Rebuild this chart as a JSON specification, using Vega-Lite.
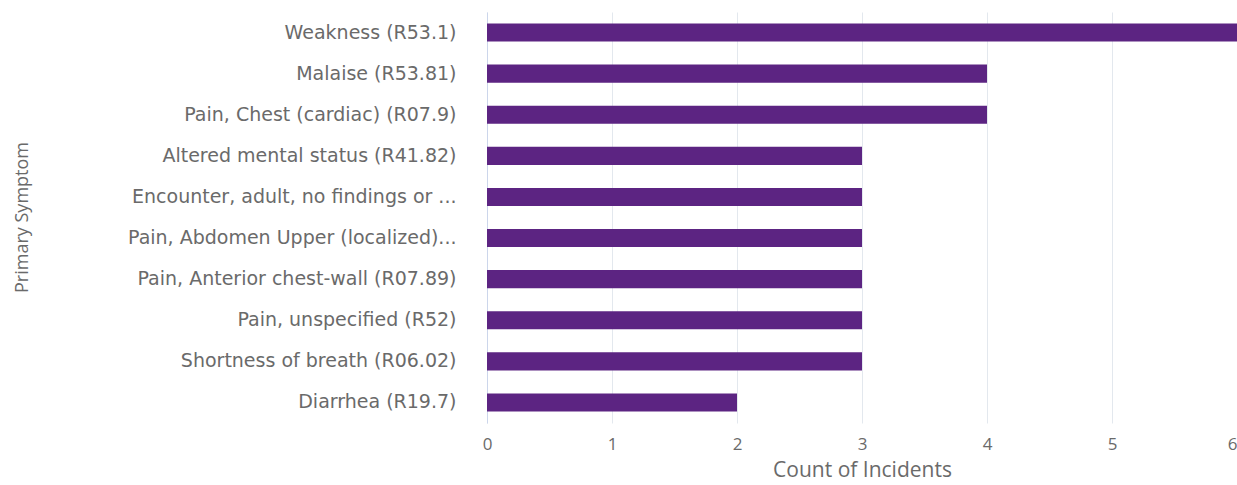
{
  "$schema": "https://vega.github.io/schema/vega-lite/v6.json",
  "autosize": "none",
  "padding": {"left": 487, "top": 12, "right": 0, "bottom": 62},
  "width": 750,
  "height": 411,
  "background": "white",
  "data": {"values": [
    {"symptom": "Weakness (R53.1)", "count": 6},
    {"symptom": "Malaise (R53.81)", "count": 4},
    {"symptom": "Pain, Chest (cardiac) (R07.9)", "count": 4},
    {"symptom": "Altered mental status (R41.82)", "count": 3},
    {"symptom": "Encounter, adult, no findings or ...", "count": 3},
    {"symptom": "Pain, Abdomen Upper (localized)...", "count": 3},
    {"symptom": "Pain, Anterior chest-wall (R07.89)", "count": 3},
    {"symptom": "Pain, unspecified (R52)", "count": 3},
    {"symptom": "Shortness of breath (R06.02)", "count": 3},
    {"symptom": "Diarrhea (R19.7)", "count": 2}
  ]},
  "mark": {"type": "bar", "color": "#5C2482"},
  "encoding": {
    "y": {
      "field": "symptom", "type": "nominal", "sort": null,
      "scale": {"paddingInner": 0.56, "paddingOuter": 0.28},
      "axis": {
        "title": "Primary Symptom", "titleFont": "Open Sans", "titleFontSize": 18, "titleFontWeight": "normal",
        "titleColor": "#6a6a6a", "titleX": -465, "titleY": 205, "titleAngle": -90, "titleAlign": "center", "titleBaseline": "middle",
        "labelFont": "DejaVu Sans", "labelFontSize": 19, "labelColor": "#6a6a6a", "labelPadding": 31,
        "labelLimit": 500, "ticks": false, "domainColor": "#ccd6eb", "grid": false
      }
    },
    "x": {
      "field": "count", "type": "quantitative",
      "scale": {"domain": [0, 6], "nice": false},
      "axis": {
        "title": "Count of Incidents", "titleFont": "Open Sans", "titleFontSize": 21, "titleFontWeight": "normal",
        "titleColor": "#6a6a6a", "titlePadding": 7,
        "labelFont": "Open Sans", "labelFontSize": 17, "labelColor": "#6a6a6a", "labelPadding": 13,
        "values": [0, 1, 2, 3, 4, 5, 6], "format": "d",
        "labelAlign": {"condition": {"test": "datum.value == 6", "value": "right"}, "value": "center"},
        "ticks": false, "domain": false, "grid": true, "gridColor": "#e3e8ee",
        "labelFlush": false
      }
    }
  },
  "config": {"view": {"stroke": null}}
}
